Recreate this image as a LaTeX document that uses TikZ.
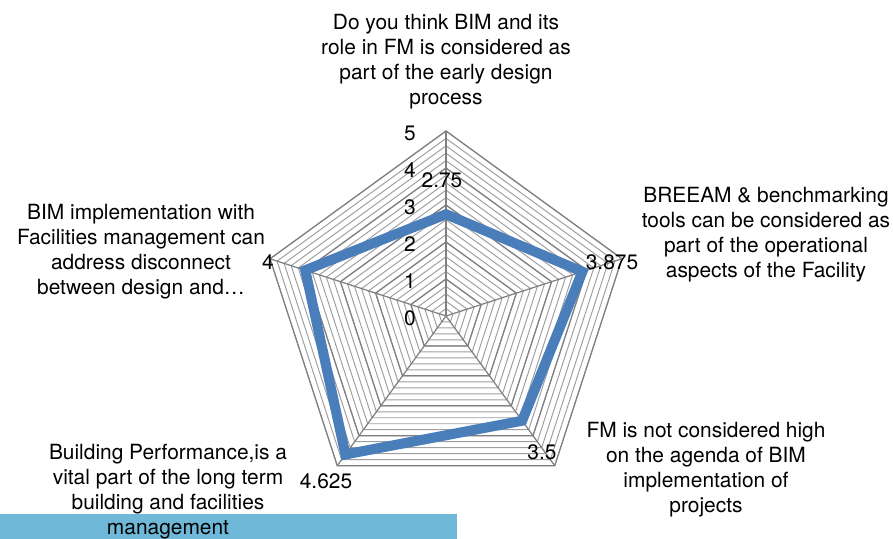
\documentclass[tikz,border=0pt]{standalone}
\usepackage{fontspec}
\setmainfont{TeX Gyre Heros}
\usetikzlibrary{positioning, calc}

\definecolor{seriesblue}{RGB}{74,126,187}
\definecolor{barblue}{RGB}{112,184,216}

\tikzset{
	minorring/.style={draw=black!38, line width=0.55pt},
	majorring/.style={draw=black!50, line width=0.7pt},
	spoke/.style={draw=black!50, line width=0.7pt},
	series/.style={draw=seriesblue, line width=5.7pt, line join=miter},
	catlabel/.style={align=center, inner sep=0pt},
	vallabel/.style={inner sep=0pt}
}

\begin{document}
\begin{tikzpicture}[font=\fontsize{11.9}{14.2}\selectfont]
	\useasboundingbox (0,0) rectangle (17.86,10.78);
	\fill[barblue] (0,0) rectangle (9.14,0.5);
	\coordinate (O) at (8.92,4.46);
	\begin{scope}[shift={(O)}]
		% grid
		\foreach \i in {1,...,25}
			\draw[minorring] (90:{\i*0.148}) -- (18:{\i*0.148}) -- (-54:{\i*0.148}) -- (-126:{\i*0.148}) -- (162:{\i*0.148}) -- cycle;
		\foreach \i in {1,...,5}
			\draw[majorring] (90:{\i*0.74}) -- (18:{\i*0.74}) -- (-54:{\i*0.74}) -- (-126:{\i*0.74}) -- (162:{\i*0.74}) -- cycle;
		\foreach \a in {90,18,-54,-126,162}
			\draw[spoke] (0,0) -- (\a:3.7);
		% series
		\coordinate (p1) at (90:{2.75*0.74});
		\coordinate (p2) at (18:{3.875*0.74});
		\coordinate (p3) at (-54:{3.5*0.74});
		\coordinate (p4) at (-126:{4.625*0.74});
		\coordinate (p5) at (162:{4*0.74});
		\draw[series] (p1) -- (p2) -- (p3) -- (p4) -- (p5) -- cycle;
		% axis ticks
		\foreach \k in {0,...,5}
			\node (t\k) [vallabel] at (-0.72, \k*0.74-0.04) {\k};
	\end{scope}
	% values
	\node (v1) [vallabel] at (8.84,7.18) {2.75};
	\node (v2) [vallabel] at (12.24,5.54) {3.875};
	\node (v3) [vallabel] at (10.84,1.74) {3.5};
	\node (v4) [vallabel] at (6.52,1.16) {4.625};
	\node (v5) [vallabel] at (5.36,5.54) {4};
	% categories
	\node (c1) [catlabel] at (8.92,9.54) {Do you think BIM and its\\role in FM is considered as\\part of the early design\\process};
	\node (c2) [catlabel] at (15.32,6.08) {BREEAM \& benchmarking\\tools can be considered as\\part of the operational\\aspects of the Facility};
	\node (c3) [catlabel] at (14.12,1.38) {FM is not considered high\\on the agenda of BIM\\implementation of\\projects};
	\node (c4) [catlabel] at (3.36,0.94) {Building Performance,is a\\vital part of the long term\\building and facilities\\management};
	\node (c5) [catlabel] at (2.82,5.74) {BIM implementation with\\Facilities management can\\address disconnect\\between design and\ldots};
\end{tikzpicture}
\end{document}
